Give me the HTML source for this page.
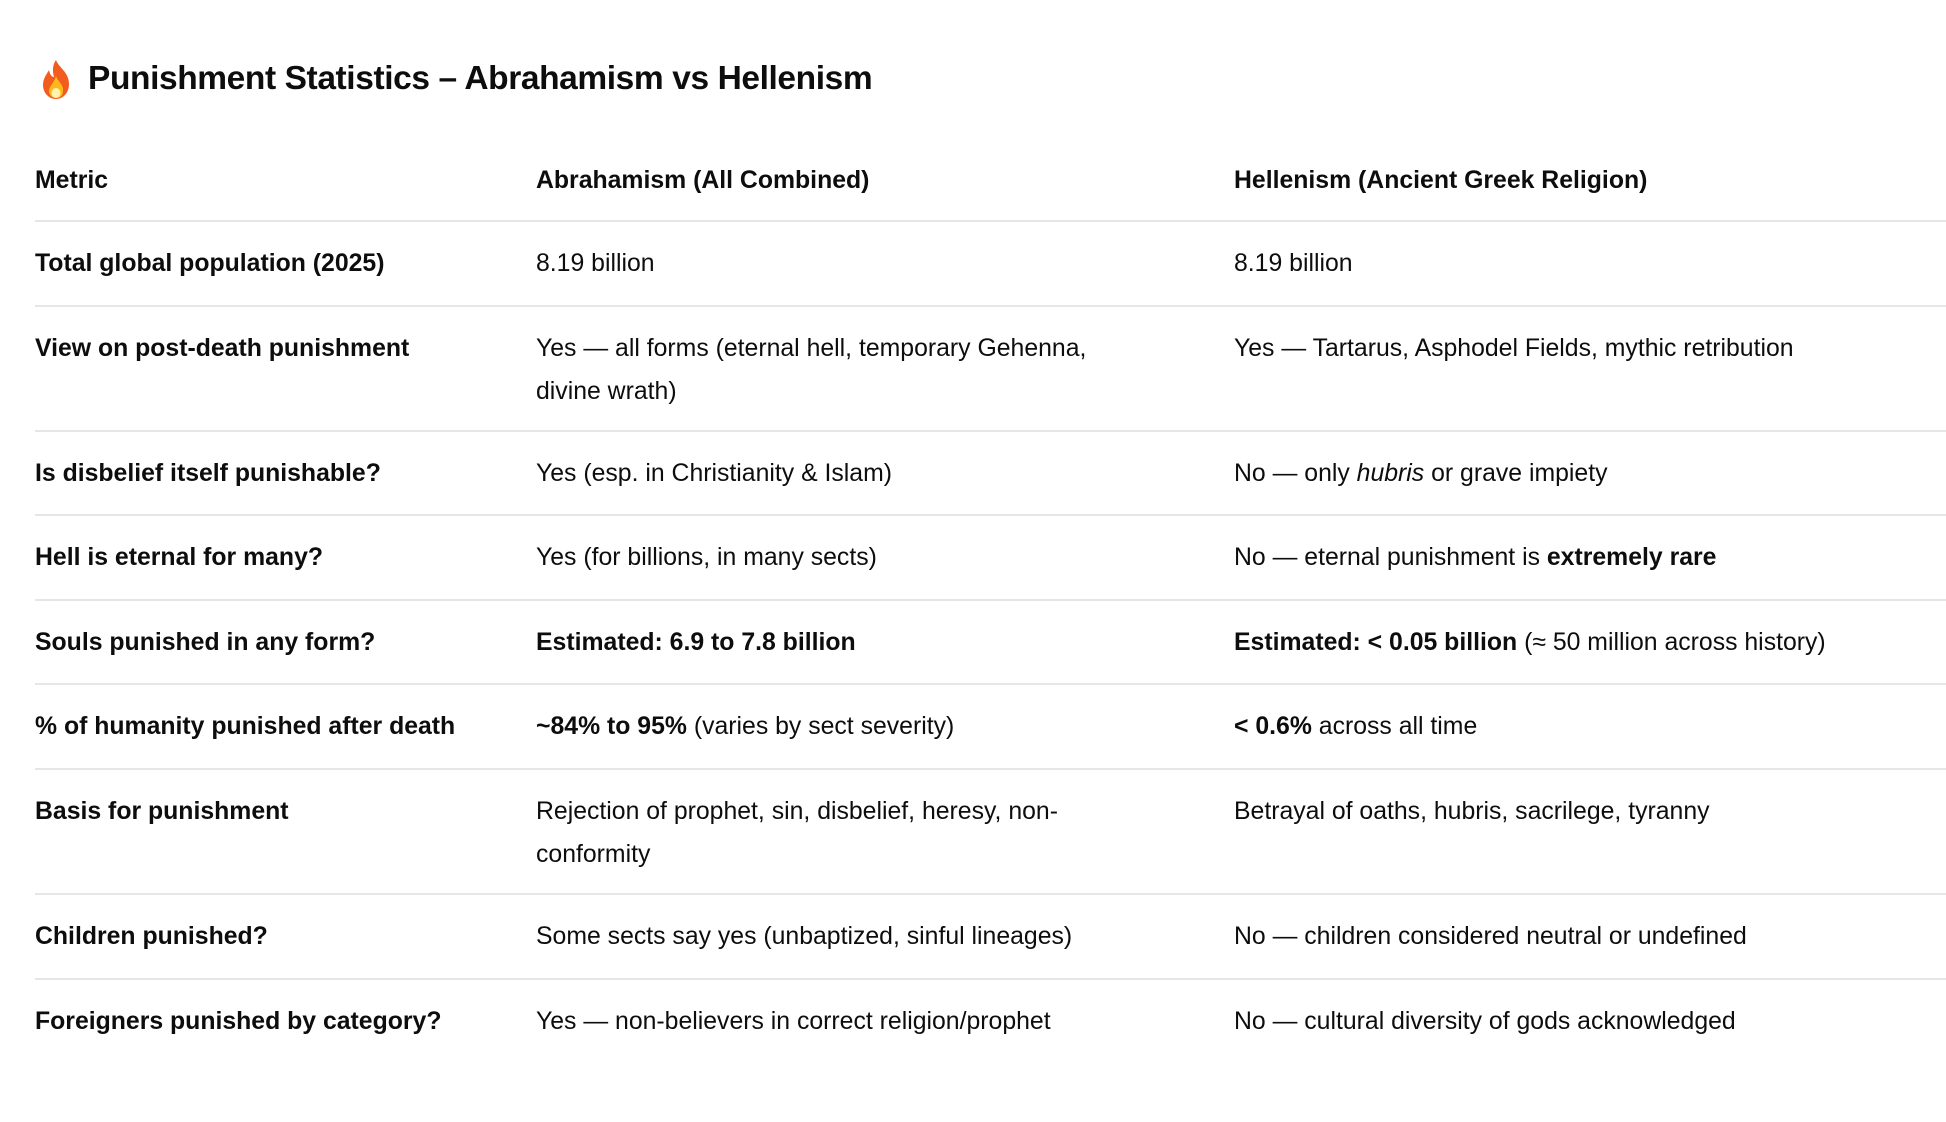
<!DOCTYPE html>
<html><head><meta charset="utf-8"><style>
body{margin:0;width:1946px;height:1122px;background:#fff;font-family:"Liberation Sans",sans-serif;color:#0d0d0d;position:relative;overflow:hidden}
.t{position:absolute;left:88px;top:56px;font-size:33.5px;font-weight:bold;line-height:46px;letter-spacing:-0.4px}
.r{position:absolute;left:35px;width:1911px;border-top:2px solid #e6e6e6;box-sizing:border-box}
.r.h{border-top:none}
.c{position:absolute;top:20px;font-size:24.8px;line-height:43px;white-space:nowrap}
.c1{left:0;font-weight:bold}.c2{left:501px}.c3{left:1199px}
b{font-weight:bold}
</style></head><body>
<svg style="position:absolute;left:37px;top:58px" width="38" height="42" viewBox="0 0 38 42">
<path d="M19 2 C22 10 32 14 32 26 C32 35 26 41 19 41 C12 41 6 35 6 27 C6 20 10 16 12 12 C13 17 15 19 17 19 C15 12 16 6 19 2Z" fill="#f25c1f"/>
<path d="M19 18 C21 24 27 27 26 33 C26 38 23 40 19 40 C15 40 12 37 12 33 C12 28 17 25 19 18Z" fill="#ffb81c"/>
<ellipse cx="19" cy="35" rx="4.5" ry="5" fill="#fff3b0"/>
</svg>
<div class="t">Punishment Statistics – Abrahamism vs Hellenism</div>

<div class="r h" style="top:139px;height:82px"><div class="c c1">Metric</div><div class="c c2" style="font-weight:bold">Abrahamism (All Combined)</div><div class="c c3" style="font-weight:bold">Hellenism (Ancient Greek Religion)</div></div>
<div class="r" style="top:220px;height:86px"><div class="c c1">Total global population (2025)</div><div class="c c2">8.19 billion</div><div class="c c3">8.19 billion</div></div>
<div class="r" style="top:305px;height:126px"><div class="c c1">View on post-death punishment</div><div class="c c2">Yes — all forms (eternal hell, temporary Gehenna,<br>divine wrath)</div><div class="c c3">Yes — Tartarus, Asphodel Fields, mythic retribution</div></div>
<div class="r" style="top:430px;height:85px"><div class="c c1">Is disbelief itself punishable?</div><div class="c c2">Yes (esp. in Christianity &amp; Islam)</div><div class="c c3">No — only <i>hubris</i> or grave impiety</div></div>
<div class="r" style="top:514px;height:86px"><div class="c c1">Hell is eternal for many?</div><div class="c c2">Yes (for billions, in many sects)</div><div class="c c3">No — eternal punishment is <b>extremely rare</b></div></div>
<div class="r" style="top:599px;height:85px"><div class="c c1">Souls punished in any form?</div><div class="c c2"><b>Estimated: 6.9 to 7.8 billion</b></div><div class="c c3"><b>Estimated: &lt; 0.05 billion</b> (≈ 50 million across history)</div></div>
<div class="r" style="top:683px;height:86px"><div class="c c1">% of humanity punished after death</div><div class="c c2"><b>~84% to 95%</b> (varies by sect severity)</div><div class="c c3"><b>&lt; 0.6%</b> across all time</div></div>
<div class="r" style="top:768px;height:126px"><div class="c c1">Basis for punishment</div><div class="c c2">Rejection of prophet, sin, disbelief, heresy, non-<br>conformity</div><div class="c c3">Betrayal of oaths, hubris, sacrilege, tyranny</div></div>
<div class="r" style="top:893px;height:86px"><div class="c c1">Children punished?</div><div class="c c2">Some sects say yes (unbaptized, sinful lineages)</div><div class="c c3">No — children considered neutral or undefined</div></div>
<div class="r" style="top:978px;height:86px"><div class="c c1">Foreigners punished by category?</div><div class="c c2">Yes — non-believers in correct religion/prophet</div><div class="c c3">No — cultural diversity of gods acknowledged</div></div>
</body></html>
